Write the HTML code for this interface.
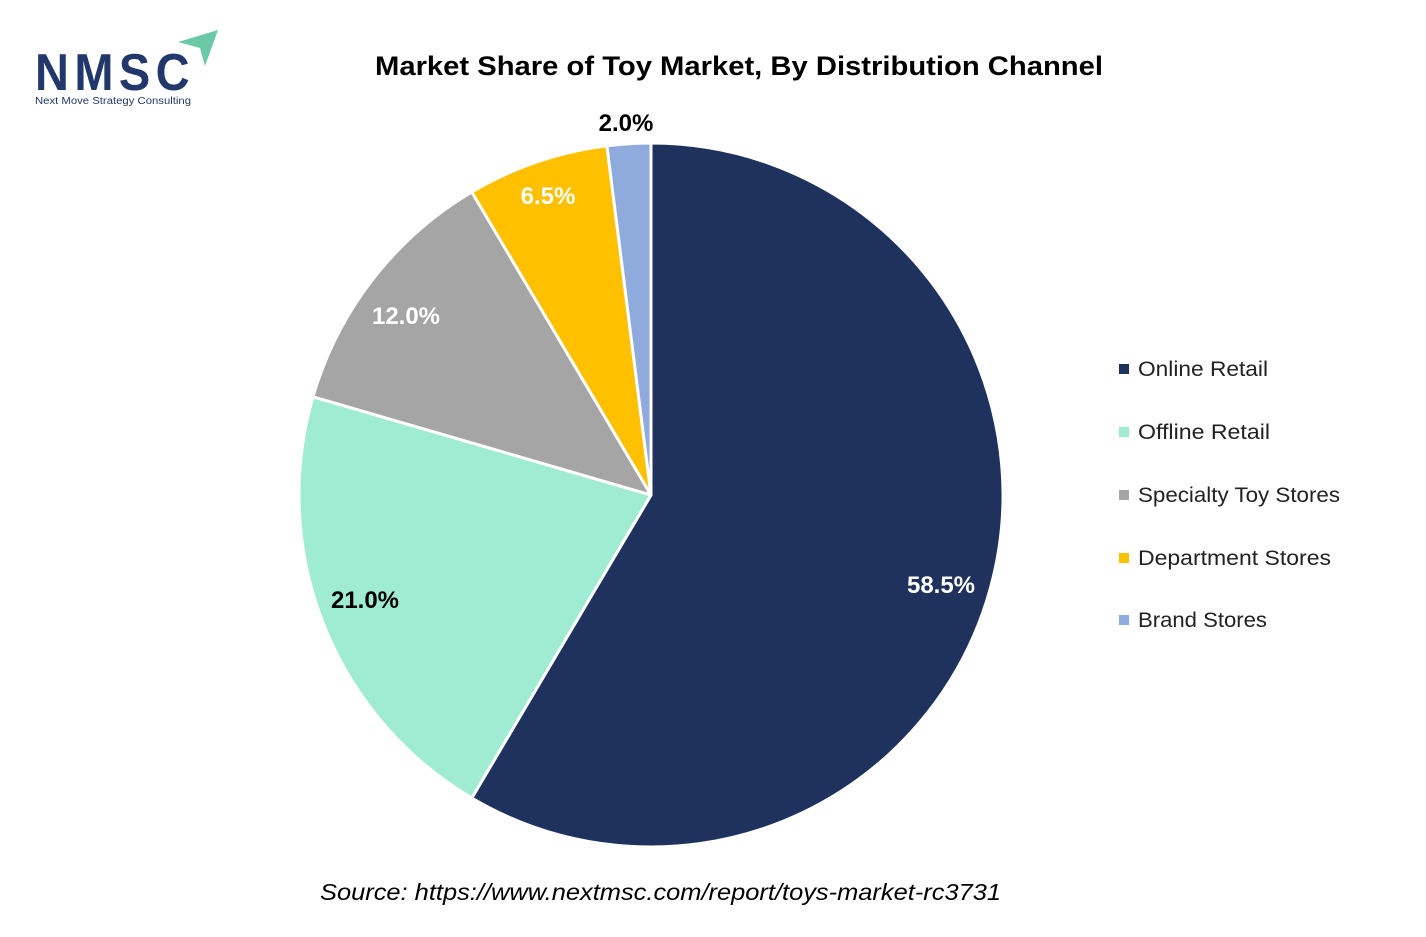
<!DOCTYPE html>
<html><head><meta charset="utf-8"><style>
body{margin:0;background:#fff;width:1426px;height:932px;overflow:hidden;font-family:"Liberation Sans",sans-serif}
</style></head><body>
<svg width="1426" height="932" xmlns="http://www.w3.org/2000/svg">
<g font-family="Liberation Sans, sans-serif">
<text x="35" y="90" font-size="52" font-weight="bold" fill="#22386b" letter-spacing="6" textLength="160" lengthAdjust="spacingAndGlyphs">NMSC</text>
<polygon points="178,42 218,30 205,66 200,48" fill="#6cc9a8"/>
<text x="35" y="104" font-size="10" fill="#22386b" textLength="156" lengthAdjust="spacingAndGlyphs">Next Move Strategy Consulting</text>
</g>
<text x="375" y="75" font-family="Liberation Sans, sans-serif" font-size="27" font-weight="bold" fill="#000" textLength="728" lengthAdjust="spacingAndGlyphs">Market Share of Toy Market, By Distribution Channel</text>
<g stroke="#fff" stroke-width="3" stroke-linejoin="round">
<path d="M651,495 L651,143 A352,352 0 1 1 471.8,798 Z" fill="#1f325e"/>
<path d="M651,495 L471.8,798 A352,352 0 0 1 313,396.8 Z" fill="#a0ecd2"/>
<path d="M651,495 L313,396.8 A352,352 0 0 1 471.8,192 Z" fill="#a5a5a5"/>
<path d="M651,495 L471.8,192 A352,352 0 0 1 606.9,145.8 Z" fill="#ffc000"/>
<path d="M651,495 L606.9,145.8 A352,352 0 0 1 651,143 Z" fill="#8faadc"/>
</g>
<g font-family="Liberation Sans, sans-serif" font-size="24" font-weight="bold" text-anchor="middle">
<text x="941" y="593" fill="#fff">58.5%</text>
<text x="365" y="608" fill="#000">21.0%</text>
<text x="406" y="324" fill="#fff">12.0%</text>
<text x="548" y="204" fill="#fff">6.5%</text>
<text x="626" y="131" fill="#000">2.0%</text>
</g>
<g font-family="Liberation Sans, sans-serif" font-size="21" fill="#222">
<rect x="1119" y="364" width="10" height="10" fill="#1f325e"/><text x="1138" y="376" textLength="130" lengthAdjust="spacingAndGlyphs">Online Retail</text>
<rect x="1119" y="427" width="10" height="10" fill="#a0ecd2"/><text x="1138" y="439" textLength="132" lengthAdjust="spacingAndGlyphs">Offline Retail</text>
<rect x="1119" y="490" width="10" height="10" fill="#a5a5a5"/><text x="1138" y="502" textLength="202" lengthAdjust="spacingAndGlyphs">Specialty Toy Stores</text>
<rect x="1119" y="553" width="10" height="10" fill="#ffc000"/><text x="1138" y="565" textLength="193" lengthAdjust="spacingAndGlyphs">Department Stores</text>
<rect x="1119" y="615" width="10" height="10" fill="#8faadc"/><text x="1138" y="627" textLength="129" lengthAdjust="spacingAndGlyphs">Brand Stores</text>
</g>
<text x="320" y="900" font-family="Liberation Sans, sans-serif" font-size="23" font-style="italic" fill="#000" textLength="681" lengthAdjust="spacingAndGlyphs">Source: https://www.nextmsc.com/report/toys-market-rc3731</text>
</svg>
</body></html>
